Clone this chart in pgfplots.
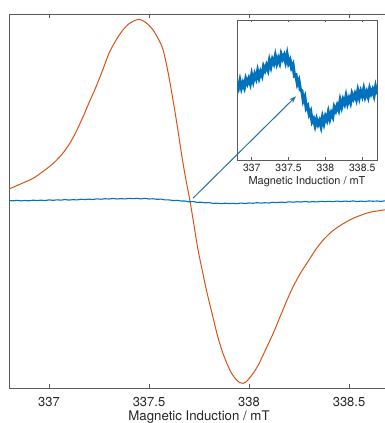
\documentclass[border=0pt]{standalone}
\usepackage{fontspec}
\setmainfont{TeX Gyre Heros}
\usepackage{pgfplots}
\usepackage{pgfplotstable}
\usetikzlibrary{arrows.meta}
\pgfplotsset{compat=1.18}
\definecolor{mblue}{HTML}{0072BD}
\definecolor{morange}{HTML}{D95319}
\definecolor{frame}{HTML}{5A5A5A}
\definecolor{arrowc}{HTML}{2A6F97}

\pgfplotstableread{
x y
336.80 0.093
336.82 0.032
336.84 0.131
336.86 0.029
336.88 0.098
336.90 0.037
336.92 0.156
336.94 0.096
336.96 0.159
336.98 0.092
337.00 0.215
337.02 0.128
337.04 0.221
337.06 0.164
337.08 0.269
337.10 0.178
337.12 0.256
337.14 0.205
337.16 0.333
337.18 0.282
337.20 0.350
337.22 0.288
337.24 0.416
337.26 0.335
337.28 0.433
337.30 0.381
337.32 0.484
337.34 0.383
337.36 0.451
337.38 0.389
337.40 0.508
337.42 0.446
337.44 0.495
337.46 0.405
337.48 0.505
337.50 0.382
337.52 0.426
337.54 0.320
337.56 0.361
337.58 0.203
337.60 0.214
337.62 0.088
337.64 0.135
337.66 0.002
337.68 -0.010
337.70 -0.150
337.72 -0.100
337.74 -0.260
337.76 -0.229
337.78 -0.347
337.80 -0.306
337.82 -0.451
337.84 -0.414
337.86 -0.507
337.88 -0.420
337.90 -0.490
337.92 -0.440
337.94 -0.520
337.96 -0.393
337.98 -0.476
338.00 -0.379
338.02 -0.430
338.04 -0.320
338.06 -0.410
338.08 -0.330
338.10 -0.380
338.12 -0.248
338.14 -0.296
338.16 -0.223
338.18 -0.281
338.20 -0.152
338.22 -0.237
338.24 -0.141
338.26 -0.196
338.28 -0.090
338.30 -0.190
338.32 -0.120
338.34 -0.180
338.36 -0.060
338.38 -0.120
338.40 -0.060
338.42 -0.130
338.44 -0.014
338.46 -0.108
338.48 -0.022
338.50 -0.085
338.52 0.011
338.54 -0.093
338.56 -0.029
338.58 -0.096
338.60 0.017
338.62 -0.051
338.64 0.002
338.66 -0.075
338.68 0.037
338.70 -0.060
}\bluedata

\pgfplotstableread{
x y
336.80 0.064
336.86 0.092
336.92 0.121
336.97 0.158
337.02 0.200
337.065 0.250
337.105 0.310
337.14 0.380
337.17 0.450
337.20 0.525
337.235 0.610
337.27 0.705
337.30 0.790
337.335 0.860
337.37 0.915
337.40 0.948
337.435 0.968
337.455 0.970
337.47 0.964
337.495 0.945
337.52 0.915
337.545 0.870
337.57 0.810
337.595 0.690
337.62 0.540
337.64 0.410
337.66 0.270
337.68 0.140
337.705 0.000
337.725 -0.130
337.745 -0.260
337.77 -0.390
337.79 -0.490
337.815 -0.600
337.84 -0.710
337.865 -0.800
337.89 -0.870
337.915 -0.925
337.94 -0.960
337.955 -0.972
337.97 -0.975
337.985 -0.968
338.00 -0.950
338.025 -0.915
338.05 -0.870
338.085 -0.790
338.12 -0.710
338.155 -0.620
338.19 -0.530
338.22 -0.460
338.255 -0.390
338.30 -0.315
338.34 -0.250
338.38 -0.198
338.42 -0.158
338.47 -0.122
338.52 -0.093
338.585 -0.066
338.63 -0.055
338.70 -0.044
}\orangedata

\begin{document}
\begin{tikzpicture}[x=1bp,y=1bp]
\begin{axis}[
  at={(9bp,35bp)}, anchor=south west,
  scale only axis,
  width=380bp, height=374bp,
  xmin=336.8, xmax=338.7,
  ymin=-1, ymax=1,
  axis x line*=box, axis y line*=left,
  axis line style={frame, line width=0.8bp, -},
  xtick={337,337.5,338,338.5},
  xticklabels={337,337.5,338,338.5},
  ytick=\empty,
  tick align=inside,
  major tick length=4bp,
  tick style={frame, line width=0.8bp},
  xticklabel style={font=\fontsize{13}{15}\selectfont, text=black!85, yshift=-6bp},
  xlabel={Magnetic Induction / mT},
  xlabel style={font=\fontsize{13.3}{15}\selectfont, text=black!85, yshift=3bp},
  clip=true,
]
\addplot[morange, line width=1bp, smooth] table[x=x,y=y] {\orangedata};
\addplot[mblue, line width=1.1bp] table[x=x, y expr=\thisrow{y}*0.028] {\bluedata};
\end{axis}
\begin{axis}[
  at={(237bp,263bp)}, anchor=south west,
  scale only axis,
  width=140bp, height=140bp,
  xmin=336.8, xmax=338.7,
  ymin=-1, ymax=1,
  axis background/.style={fill=white},
  axis line style={frame, line width=0.8bp},
  xtick={337,337.5,338,338.5},
  xticklabels={337,337.5,338,338.5},
  ytick=\empty,
  tick align=inside,
  major tick length=2.5bp,
  tick style={frame, line width=0.6bp},
  xticklabel style={font=\fontsize{10.5}{12}\selectfont, text=black!85, yshift=-1bp},
  xlabel={Magnetic Induction / mT},
  xlabel style={font=\fontsize{11}{12}\selectfont, text=black!85, yshift=2bp},
]
\addplot[mblue, line width=3.2bp] table[x=x,y=y] {\bluedata};
\end{axis}
\begin{axis}[
  at={(9bp,35bp)}, anchor=south west,
  scale only axis,
  width=380bp, height=374bp,
  xmin=336.8, xmax=338.7,
  ymin=-1, ymax=1,
  hide axis,
]
\draw[arrowc, line width=1bp, -{Stealth[length=7bp,width=5bp]}] (axis cs:337.72,0.015) -- (axis cs:338.235,0.56);
\end{axis}
\pgfresetboundingbox
\useasboundingbox (0,0) rectangle (385bp,423bp);
\end{tikzpicture}
\end{document}
